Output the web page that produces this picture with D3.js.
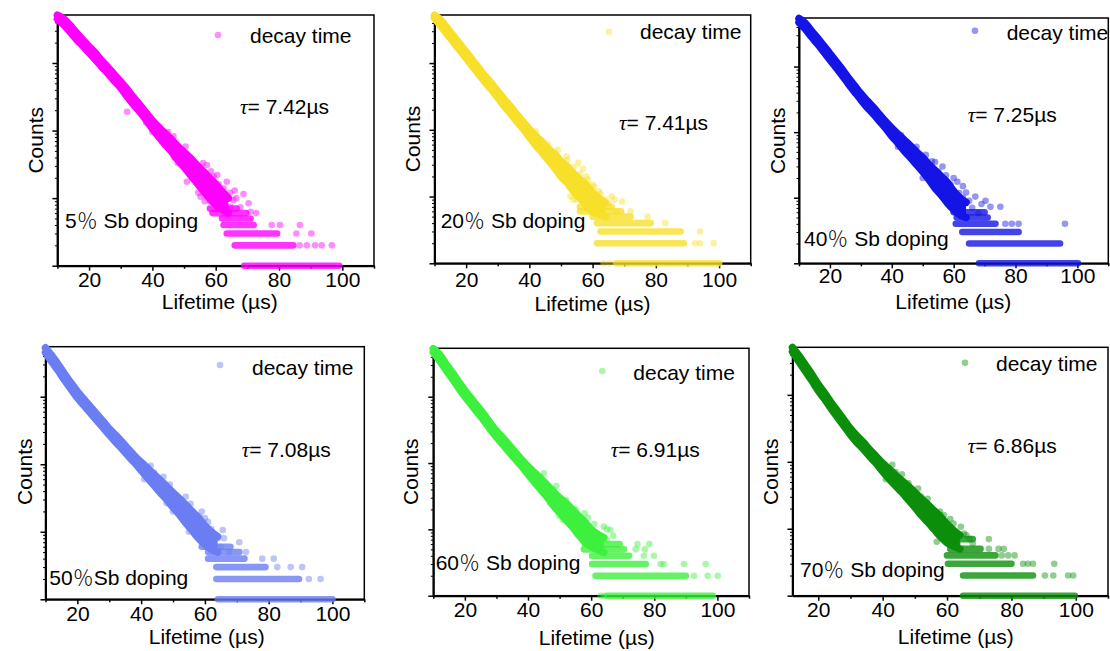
<!DOCTYPE html>
<html>
<head>
<meta charset="utf-8">
<script src="https://cdn.jsdelivr.net/npm/d3@7"></script>
<style>
  body { margin: 0; background: #fff; }
  svg { display: block; }
  text { font-family: "Liberation Sans", Arial, sans-serif; }
</style>
</head>
<body>
<svg width="1110" height="651"></svg>
<script>
"use strict";

/* lifetime grid (us) for the dense part of each decay */
var lifetimeGrid = [10,12,14,16,18,20,22,24,26,28,30,32,34,36,38,40,42,44,46,48,50,52,54,56,58,60,62,64];
var lifetimeGrid70 = [12,14,16,18,20,22,24,26,28,30,32,34,36,38,40,42,44,46,48,50,52,54,56,58,60,62,64];

var xMajorTicks = [20, 40, 60, 80, 100];
var xMinorTicks = [10, 30, 50, 70, 90, 110];
var countMajorTicks = [1, 10, 100, 1000];
var countMinorTicks = [2,3,4,5,6,7,8,9,20,30,40,50,60,70,80,90,200,300,400,500,600,700,800,900,2000,3000,4000,5000];

/* upper / lower edge of the dense band (counts) */
var hiSb5  = [5100,4500,3600,2800,2200,1750,1400,1080,860,670,530,410,310,240,182,141,112,91,74,59,48,39,31,25,20,16,12.5,10];
var loSb5  = [4500,3700,2900,2250,1800,1420,1130,880,700,540,430,320,245,190,145,107,81,63,49,37,29,22,17,13,10,8,6.8,6];
var hiSb20 = [5200,4400,3350,2540,1930,1460,1110,840,638,495,376,288,224,170,132,102,81,66,52,43,34,28,22,18,15,11.5,9.5,8];
var loSb20 = [4700,3600,2720,2070,1570,1190,900,684,519,403,305,229,178,135,105,78,59,46,35,27,20,16,12,9.5,7.4,6,5.5,5];
var hiSb40 = [5400,4600,3500,2720,2070,1570,1190,900,668,507,385,302,240,186,145,115,93,76,62,50,41,32,26,21,17,12.6,10,8.5];
var loSb40 = [4700,3760,2850,2210,1680,1270,966,733,543,412,313,240,191,148,115,87,68,52,41,32,25,19,14,11,8.3,6.6,5.5,5];
var hiSb50 = [5300,4030,2985,2160,1600,1190,923,716,556,432,335,269,214,166,132,107,87,71,58,47,38,31,25,20,16,12.3,10,8.5];
var loSb50 = [4500,3270,2430,1760,1300,966,750,582,452,351,272,214,170,132,105,81,63,49,38,30,23,18,13.5,10.5,8,6.5,5.5,5];
var hiSb60 = [5300,4320,3130,2320,1680,1245,944,716,543,403,305,240,186,145,112,89,72,58,47,37,30,25,20,16,12.9,10,8.5,7.5];
var loSb60 = [4700,3510,2540,1880,1365,1010,767,582,442,327,248,191,148,115,89,68,52,40,31,23,18,14,11,8.3,6.5,5.5,5,4.5];
var hiSb70 = [5100,3850,2790,2020,1430,1060,767,569,422,313,245,195,151,120,95,78,63,52,43,35,28,23,18.6,15,11.7,9.5,8];
var loSb70 = [4400,3130,2265,1640,1160,861,624,462,343,254,195,155,120,95,72,56,44,35,27,21,16,12.6,9.8,7.6,6.2,5.5,5];

/* runs of points at low integer counts: [count, from, to] */
var rowsSb5  = [[1,69,99],[2,66,84.5],[3,63.5,79.4],[4,62.5,72],[5,62,71],[6,59,69.6],[7,58.2,66.6]];
var rowsSb20 = [[1,67.5,100],[2,61.4,88.9],[3,62.5,87.8],[4,61.4,78.4],[5,60,72],[6,56,69],[7,56,66]];
var rowsSb40 = [[1,68.2,100.2],[2,65,94.4],[3,62.8,81],[4,60.7,73.5],[5,61,71],[6,60,70]];
var rowsSb50 = [[1,64.1,100],[2,63.6,89.5],[3,63.6,79],[4,61,72.4],[5,61,70.8],[6,59,68]];
var rowsSb60 = [[1,65,98.5],[2,61.4,90],[3,60.3,77.3],[4,60.3,72],[5,57.7,70.4],[6,58,69]];
var rowsSb70 = [[1,65,99.7],[2,65,86.7],[3,60.3,80],[4,60,75],[5,61,70.4],[7,62,68]];

/* loose points: [lifetime, count] */
var dotsSb5 = [[32,190],[38,130],[42,115],[44,60],[46.7,82],[48,33],[49.3,46],[50.9,17.5],[52,40],[53,23],[54,28],[55,15],[55.2,10.5],
  [57,18],[57.2,31],[58.2,9],[59.3,21],[60,12],[61,16],[61.4,13],[62,10],[63,11],[63.5,17.5],[64.6,7.5],[65.6,9.4],[66,13],
  [67.8,7.3],[68.8,11.5],[70.4,8.4],[71,6.3],[72.8,6],[77.7,4],[80.3,4],[86.6,4],[85.5,3],[90.2,3],[86.5,2],[88.8,2],[91.4,2],[93.5,2],[96.7,2],
  [40,95],[43,70],[45,95],[47,40],[50.5,58],[52.5,35],[54.5,12],[56,33],[56.5,9],[58.5,25],[60.5,22],[62.5,14],[64.5,12],[66.5,10]];
var dotsSb20 = [[40,88],[44,50],[47,30],[48,45],[50,25],[51.8,40],[53,10],[53.9,9],[55.5,32],[56,22],[57,12],[58,20],[59,8],[60,15],
  [61,10],[62,12],[63.5,7],[64,9],[66,10],[67.7,6],[69.3,8.4],[72,6],[77.4,5],[83,4],[94,3],[92.4,2],[94,2],[98.3,2],[63.5,1],[65.5,1],
  [42,95],[46,60],[49,50],[52,35],[54,28],[55,9],[57,26],[58.5,18],[60.5,14],[62.5,11],[65,8],[67,9]];
var dotsSb40 = [[42,60],[45,70],[47,55],[49,30],[52,22],[54,35],[55.3,14.7],[56.4,30],[57,10],[58,13],[59.6,9],[60,20],[61.2,17.5],
  [61.8,11.8],[62,8],[63,10],[64,12],[66,7],[67,10.4],[68,5.8],[70.3,9],[71.9,7.3],[75.1,7.3],[76.7,4],[78.8,4],[81,4],[96,4],
  [43,90],[46,48],[48,60],[50,20],[51,45],[53,36],[55,25],[57.5,22],[59,16],[63,15],[65,9],[69,8]];
var dotsSb50 = [[42,90],[44,75],[46,40],[48,26.5],[50,20],[52.6,30],[54,33],[55,10],[56,12],[57.3,17.8],[58.3,16.8],[59.4,12],[60,16],
  [61.9,7.1],[62,11],[63,9],[64,8],[65,6],[65.6,10.6],[67.6,5],[70.8,7],[72.9,5],[78,4],[81.6,4],[82.7,3],[86.9,3],[90.5,3],[92.6,2],[96.3,2],
  [41,60],[43,95],[45,45],[47,65],[49,50],[51,25],[53,17],[55.5,26],[57,9],[59,20],[61,14],[66,8]];
var dotsSb60 = [[44,62],[46,30],[48,40],[50,16],[52,28],[53.6,18.5],[54.7,13],[56,14],[57.9,17.5],[58,11],[59.2,7.8],[60,9],[61,12],
  [62.9,6.2],[63,8],[64,11],[65,7],[66.1,9.8],[67,8],[74.1,5],[77,5],[74.7,6],[78.4,6],[76.7,4],[79.9,4],[82,3],[83,3],[89.4,3],
  [96.3,3],[92.6,2],[96.9,2],[100.1,2],[63,1],[64,1],
  [41,80],[43,45],[45,70],[47,25],[49,45],[51,14],[53,22],[55,20],[57,9],[59,15],[61,7],[65,10]];
var dotsSb70 = [[42,80],[44,70],[47,33],[50,22],[52,30],[53.1,24],[55,12],[55.2,15],[56.8,6.4],[57.8,18],[58,11],[59.2,9.6],[60.2,7.6],
  [61,14],[62,9],[63.3,6],[64.3,10.7],[65.3,8.5],[66,8],[68,6],[73,7],[73,5],[76,5],[77.6,5],[77,4],[79,4],[81,4],[83.6,3],[85.1,3],
  [86.7,3],[93.3,3],[90.4,2],[93,2],[97.6,2],[99.2,2],
  [41,55],[43,90],[45,45],[46,65],[48,48],[49,26],[51,40],[54,28],[56,10],[59,16],[62,12],[67,7]];

var dopingLabels = ["5", "20", "40", "50", "60", "70"];
var tauValues = ["7.42", "7.41", "7.25", "7.08", "6.91", "6.86"];

/* panel layout: plot box [x0, x1, y0, y1] and label anchors */
var panels = [
  {doping: 0, color: "#ff00ff", grid: lifetimeGrid, hi: hiSb5, lo: loSb5, rows: rowsSb5, dots: dotsSb5,
   box: [57.4, 374, 15, 265.7], xMin: 10, yTop: 5130, tickPad: 1,
   legend: [218, 35, 250, 42.5], tau: [240, 114], dop: [65, 227.7], space: true, counts: [42.7, 140.3], xlab: [219.7, 309]},
  {doping: 1, color: "#f7df2a", grid: lifetimeGrid, hi: hiSb20, lo: loSb20, rows: rowsSb20, dots: dotsSb20,
   box: [434.5, 750.7, 15, 263.3], xMin: 10, yTop: 5250, tickPad: 4,
   legend: [609, 31.7, 640, 39], tau: [619, 130], dop: [440.7, 228], space: true, counts: [420, 139], xlab: [592.5, 310.5]},
  {doping: 2, color: "#1414e6", grid: lifetimeGrid, hi: hiSb40, lo: loSb40, rows: rowsSb40, dots: dotsSb40,
   box: [799, 1108.3, 18, 263.3], xMin: 10, yTop: 5500, tickPad: 0,
   legend: [975, 30.7, 1006.7, 40], tau: [967.7, 121.7], dop: [804, 245.7], space: true, counts: [785, 140.7], xlab: [953.3, 308.5]},
  {doping: 3, color: "#6a7df2", grid: lifetimeGrid, hi: hiSb50, lo: loSb50, rows: rowsSb50, dots: dotsSb50,
   box: [45.5, 364.3, 346.7, 599.3], xMin: 10, yTop: 5500, tickPad: 2,
   legend: [220, 365, 252, 375], tau: [241.7, 456.7], dop: [49.3, 585], space: false, counts: [31.7, 471.7], xlab: [206.7, 643.5]},
  {doping: 4, color: "#3ef03e", grid: lifetimeGrid, hi: hiSb60, lo: loSb60, rows: rowsSb60, dots: dotsSb60,
   box: [433.3, 749, 348.3, 595.7], xMin: 10, yTop: 5370, tickPad: 1,
   legend: [602.3, 371, 633.3, 380], tau: [610.7, 456.7], dop: [435.7, 570], space: true, counts: [418.3, 471.7], xlab: [596.7, 645]},
  {doping: 5, color: "#0b8f0b", grid: lifetimeGrid70, hi: hiSb70, lo: loSb70, rows: rowsSb70, dots: dotsSb70,
   box: [792.5, 1108, 347.3, 595.7], xMin: 12, yTop: 5130, tickPad: 1,
   legend: [965, 362.7, 996, 370.7], tau: [967.7, 453.3], dop: [800, 576.7], space: true, counts: [778.3, 471.7], xlab: [955.8, 643.5]}
];

var svg = d3.select("svg");
var R = 3.3, FS = 21;

panels.forEach(function(p) {
  var g = svg.append("g");
  var x = d3.scaleLinear().domain([p.xMin, 110]).range([p.box[0], p.box[1]]);
  var y = d3.scaleLog().domain([1, p.yTop]).range([p.box[3], p.box[2]]);

  // frame
  g.append("rect")
    .attr("x", p.box[0]).attr("y", p.box[2])
    .attr("width", p.box[1] - p.box[0]).attr("height", p.box[3] - p.box[2])
    .attr("fill", "none").attr("stroke", "#000").attr("stroke-width", 1.5);

  // x axis (major with labels, minor without)
  var xa = g.append("g").attr("transform", "translate(0," + p.box[3] + ")")
    .call(d3.axisBottom(x).tickValues(xMajorTicks).tickSize(5).tickSizeOuter(0).tickPadding(p.tickPad));
  xa.select(".domain").attr("stroke-width", 2);
  xa.selectAll("line").attr("stroke-width", 1.5);
  xa.selectAll("text").attr("font-size", FS).attr("font-family", "Liberation Sans, Arial, sans-serif").attr("fill", "#000");
  g.append("g").attr("transform", "translate(0," + p.box[3] + ")")
    .call(d3.axisBottom(x).tickValues(xMinorTicks.filter(function(v) { return v >= p.xMin; })).tickSize(3).tickFormat(""))
    .call(function(s) { s.select(".domain").remove(); s.selectAll("line").attr("stroke-width", 1.5); });

  // log y axis, no labels
  var ya = g.append("g").attr("transform", "translate(" + p.box[0] + ",0)")
    .call(d3.axisLeft(y).tickValues(countMajorTicks).tickSize(5).tickSizeOuter(0).tickFormat(""));
  ya.select(".domain").attr("stroke-width", 2);
  ya.selectAll("line").attr("stroke-width", 1.5);
  g.append("g").attr("transform", "translate(" + p.box[0] + ",0)")
    .call(d3.axisLeft(y).tickValues(countMinorTicks.filter(function(v) { return v < p.yTop; })).tickSize(2.5).tickFormat(""))
    .call(function(s) { s.select(".domain").remove(); s.selectAll("line").attr("stroke-width", 1); });

  var band = p.grid.map(function(t, i) { return {t: t, hi: p.hi[i], lo: p.lo[i]}; });

  // scattered points first, so the dense core sits on top
  g.selectAll("circle.pt").data(p.dots).enter().append("circle")
    .attr("class", "pt")
    .attr("cx", function(d) { return x(d[0]); })
    .attr("cy", function(d) { return y(d[1]); })
    .attr("r", R)
    .attr("fill", p.color).attr("fill-opacity", 0.45);

  // low-count rows
  g.selectAll("line.row").data(p.rows).enter().append("line")
    .attr("class", "row")
    .attr("x1", function(d) { return x(d[1]); })
    .attr("x2", function(d) { return x(d[2]); })
    .attr("y1", function(d) { return y(d[0]); })
    .attr("y2", function(d) { return y(d[0]); })
    .attr("stroke", p.color).attr("stroke-width", 2 * R)
    .attr("stroke-linecap", "round").attr("stroke-opacity", 0.8);

  // dense core of the decay
  g.append("path").datum(band)
    .attr("d", d3.area().curve(d3.curveMonotoneX)
      .x(function(d) { return x(d.t); })
      .y0(function(d) { return y(d.lo); })
      .y1(function(d) { return y(d.hi); }))
    .attr("fill", p.color);

  // band edges: overlapping points merge into a solid rim
  ["hi", "lo"].forEach(function(k) {
    g.append("path").datum(band)
      .attr("d", d3.line().curve(d3.curveMonotoneX)
        .x(function(d) { return x(d.t); })
        .y(function(d) { return y(d[k]); }))
      .attr("fill", "none").attr("stroke", p.color)
      .attr("stroke-width", 7.5).attr("stroke-linecap", "round").attr("stroke-linejoin", "round");
  });

  // legend
  g.append("circle").attr("cx", p.legend[0]).attr("cy", p.legend[1]).attr("r", R)
    .attr("fill", p.color).attr("fill-opacity", 0.45);
  g.append("text").attr("x", p.legend[2]).attr("y", p.legend[3]).attr("font-size", FS).text("decay time");

  // tau
  var tt = g.append("text").attr("x", p.tau[0]).attr("y", p.tau[1]).attr("font-size", FS);
  tt.append("tspan").attr("font-family", "Liberation Serif, serif").attr("font-style", "italic").text("\u03C4");
  tt.append("tspan").text("= " + tauValues[p.doping] + "\u00B5s");

  // doping label
  var dt = g.append("text").attr("x", p.dop[0]).attr("y", p.dop[1]).attr("font-size", FS);
  dt.append("tspan").text(dopingLabels[p.doping]);
  dt.append("tspan").attr("font-family", "Noto Sans CJK SC, sans-serif").attr("font-weight", 300).text("\uFF05");
  dt.append("tspan").text((p.space ? " " : "") + "Sb doping");

  // axis titles
  g.append("text").attr("transform", "translate(" + p.counts[0] + "," + p.counts[1] + ") rotate(-90)")
    .attr("text-anchor", "middle").attr("font-size", FS).text("Counts");
  g.append("text").attr("x", p.xlab[0]).attr("y", p.xlab[1])
    .attr("text-anchor", "middle").attr("font-size", FS).text("Lifetime (\u00B5s)");
});
</script>
</body>
</html>
